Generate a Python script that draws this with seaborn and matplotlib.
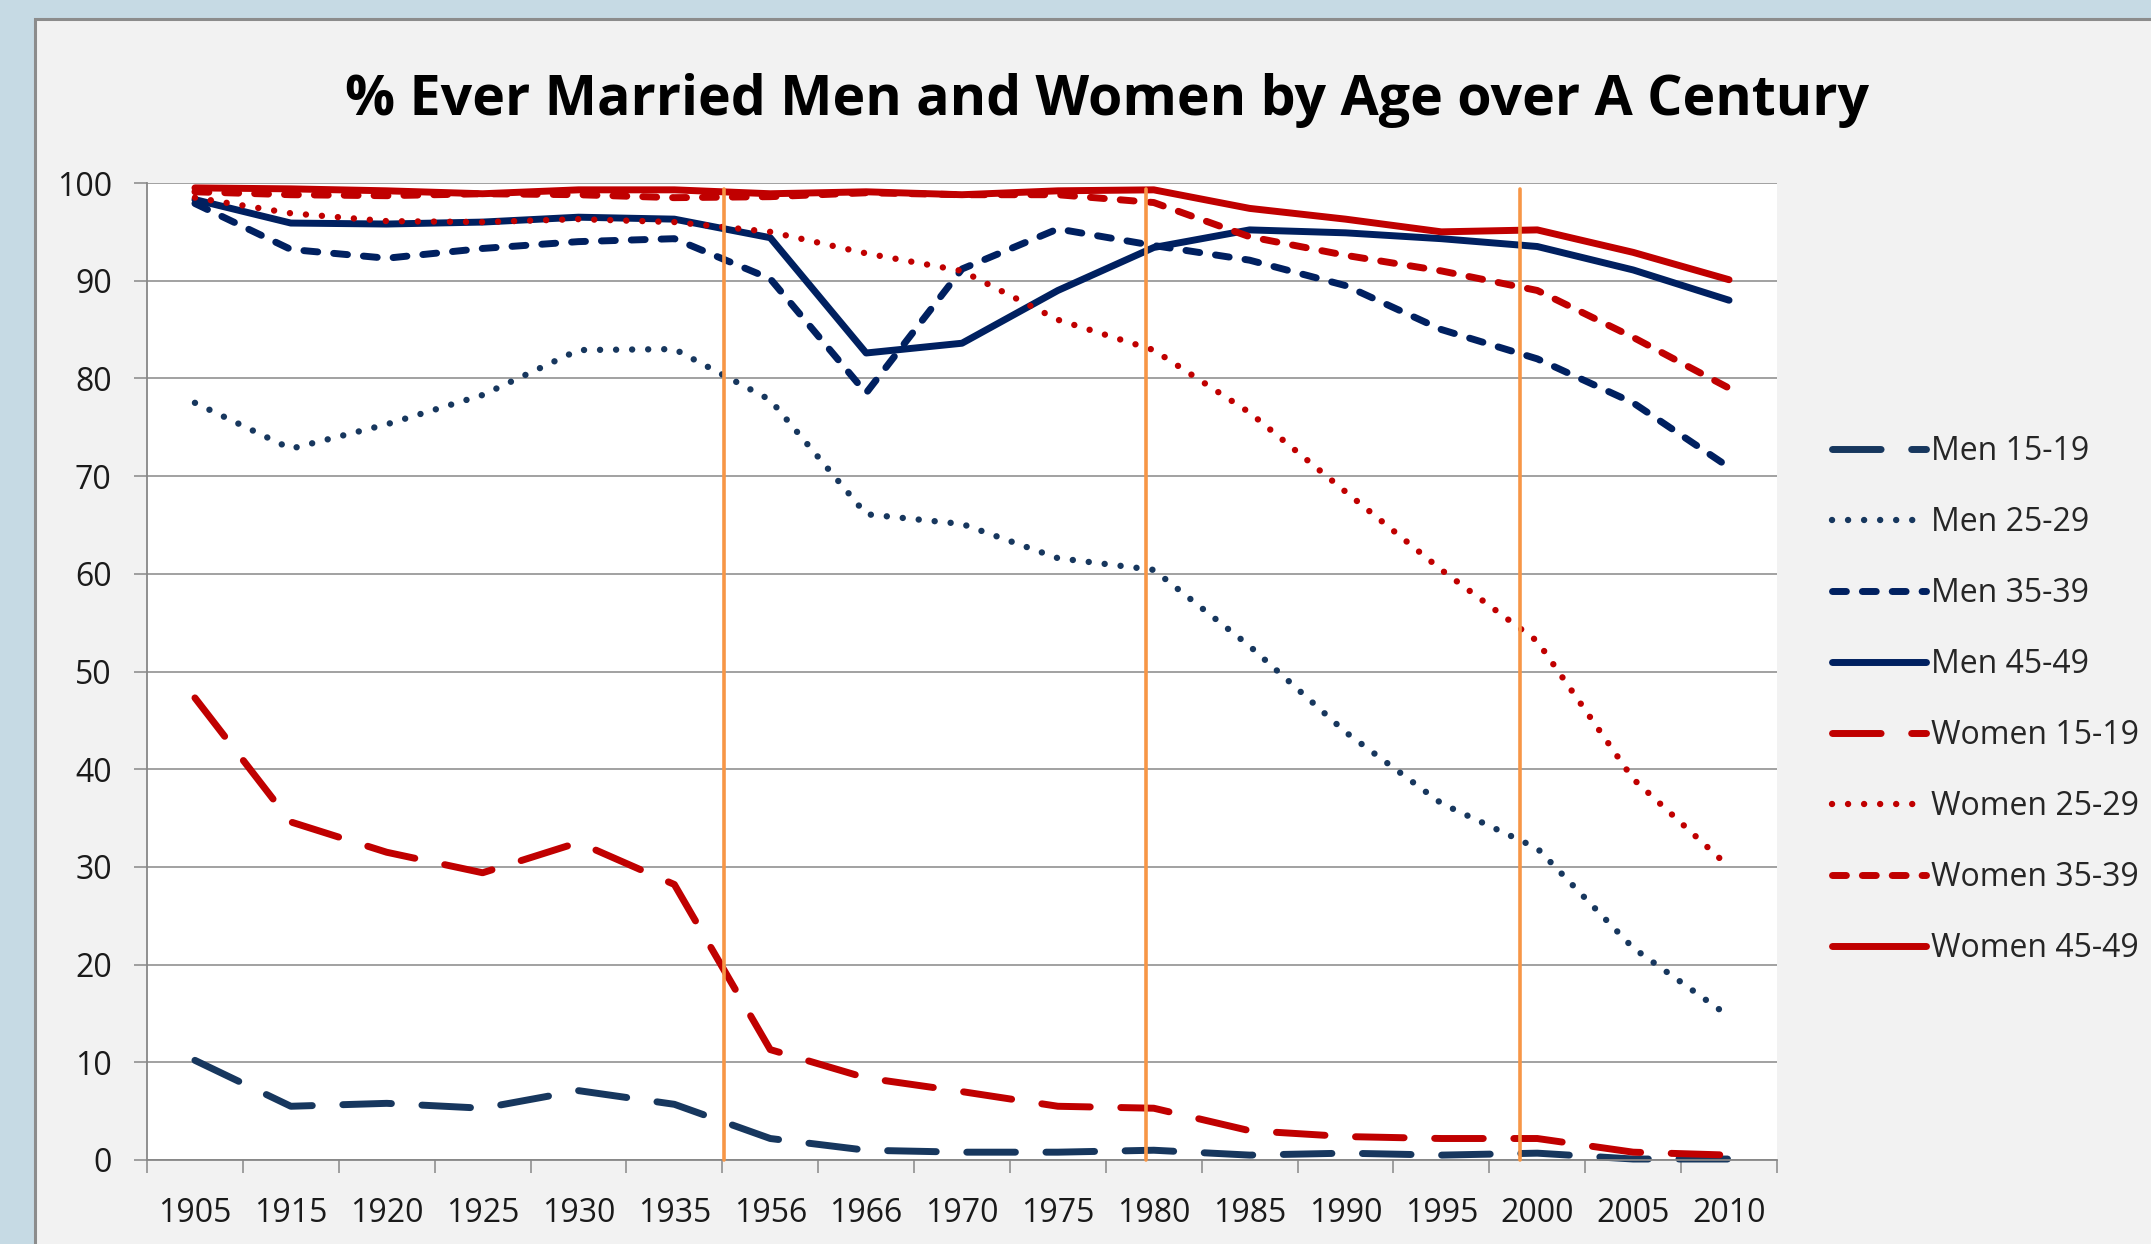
import numpy as np
import pandas as pd
import matplotlib.pyplot as plt
import seaborn as sns
from matplotlib.patches import Rectangle

# data
years = ["1905", "1915", "1920", "1925", "1930", "1935", "1956", "1966", "1970",
         "1975", "1980", "1985", "1990", "1995", "2000", "2005", "2010"]

men_15_19 = [10.2, 5.5, 5.8, 5.3, 7.1, 5.7, 2.2, 1.0, 0.8, 0.8, 1.0, 0.5, 0.7, 0.5, 0.7, 0.1, 0.1]
men_25_29 = [77.5, 72.8, 75.3, 78.3, 82.9, 83.0, 77.8, 66.1, 65.1, 61.6, 60.4, 52.6, 43.8, 36.5, 31.9, 21.7, 14.7]
men_35_39 = [97.9, 93.2, 92.3, 93.3, 94.0, 94.3, 90.2, 78.5, 91.2, 95.3, 93.6, 92.1, 89.5, 85.0, 82.0, 77.5, 70.9]
men_45_49 = [98.3, 95.9, 95.8, 96.0, 96.5, 96.3, 94.4, 82.6, 83.6, 89.0, 93.4, 95.2, 94.9, 94.3, 93.5, 91.1, 88.0]
women_15_19 = [47.3, 34.6, 31.5, 29.4, 32.5, 28.2, 11.3, 8.4, 7.0, 5.5, 5.3, 3.0, 2.4, 2.2, 2.2, 0.8, 0.5]
women_25_29 = [98.5, 96.9, 96.1, 96.0, 96.3, 96.0, 95.0, 92.8, 91.0, 86.0, 82.9, 76.5, 68.4, 60.4, 53.1, 39.0, 30.0]
women_35_39 = [99.1, 98.8, 98.7, 98.9, 98.8, 98.5, 98.6, 99.0, 98.8, 98.8, 98.0, 94.5, 92.6, 91.0, 89.0, 84.2, 79.0]
women_45_49 = [99.5, 99.4, 99.2, 98.9, 99.3, 99.3, 98.9, 99.1, 98.8, 99.2, 99.3, 97.4, 96.3, 95.0, 95.2, 92.9, 90.1]

series_names = ["Men 15-19", "Men 25-29", "Men 35-39", "Men 45-49",
                "Women 15-19", "Women 25-29", "Women 35-39", "Women 45-49"]
series_values = [men_15_19, men_25_29, men_35_39, men_45_49,
                 women_15_19, women_25_29, women_35_39, women_45_49]

# orange marker lines (category position, drawn by hand in the original)
marker_pos = [5.52, 9.92, 13.82]

navy, navy2, red = "#002060", "#17375E", "#C00000"
palette = {"Men 15-19": navy2, "Men 25-29": navy2, "Men 35-39": navy, "Men 45-49": navy,
           "Women 15-19": red, "Women 25-29": red, "Women 35-39": red, "Women 45-49": red}
dashes = {}
widths = {}
for name in series_names:
    age = name.split()[1]
    if age == "15-19":
        dashes[name], widths[name] = (7, 4.4), 5.0
    elif age == "25-29":
        dashes[name], widths[name] = (0.01, 2.5), 4.6
    elif age == "35-39":
        dashes[name], widths[name] = (2.0, 2.3), 5.0
    else:
        dashes[name], widths[name] = "", 5.0

rows = []
for name, vals in zip(series_names, series_values):
    for i, v in enumerate(vals):
        rows.append({"pos": i, "year": years[i], "series": name, "pct": v})
df = pd.DataFrame(rows)

sns.set_theme(style="white")
plt.rcParams["font.family"] = ["Open Sans", "DejaVu Sans"]

W, H = 2151, 1244
fig = plt.figure(figsize=(W / 100, H / 100), dpi=100)
fig.patch.set_facecolor("#C6DAE4")
fig.patches.append(Rectangle((35 / W, -0.05), 1.2, 1 - 19 / H + 0.05, transform=fig.transFigure,
                             facecolor="#F2F2F2", edgecolor="#8C8C8C", linewidth=2.2, zorder=-10))

ax = fig.add_axes([147 / W, 1 - 1160 / H, (1777 - 147) / W, (1160 - 183) / H])
ax.set_zorder(2)
ax.set_facecolor("white")

sns.lineplot(data=df, x="pos", y="pct", hue="series", style="series",
             hue_order=series_names, style_order=series_names,
             palette=palette, dashes=dashes, errorbar=None, legend=False, ax=ax)

for line, name in zip(ax.lines, series_names):
    line.set_linewidth(widths[name])
    line.set_dash_capstyle("round")
    line.set_solid_capstyle("round")
    line.set_solid_joinstyle("round")
    line.set_dash_joinstyle("round")
    line.set_clip_on(False)
    line.set_label(name)

for xp in marker_pos:
    ax.plot([xp, xp], [99.4, 0], color="#F79646", linewidth=2.6, zorder=5, clip_on=False)

ax.set_xlim(-0.5, len(years) - 0.5)
ax.set_ylim(0, 100)
ax.set_yticks(np.arange(0, 101, 10))
ax.set_xticks(np.arange(len(years)))
ax.set_xticklabels(years)
ax.set_xticks(np.arange(-0.5, len(years), 1.0), minor=True)
ax.yaxis.grid(True, color="#878787", linewidth=1.1)
ax.set_axisbelow(True)
for s in ["top", "right"]:
    ax.spines[s].set_visible(False)
for s in ["left", "bottom"]:
    ax.spines[s].set_color("#878787")
    ax.spines[s].set_linewidth(1.3)
ax.tick_params(axis="y", which="major", direction="out", length=9.4, width=1.1,
               color="#878787", labelsize=23, pad=16, labelcolor="#1a1a1a", left=True)
ax.tick_params(axis="x", which="major", length=0, labelsize=23, pad=27, labelcolor="#1a1a1a")
ax.tick_params(axis="x", which="minor", direction="out", length=9.4, width=1.1,
               color="#878787", bottom=True)
ax.set_xlabel("")
ax.set_ylabel("")

fig.text(0.5145, 1 - 115 / H, "% Ever Married Men and Women by Age over A Century",
         ha="center", va="baseline", fontsize=40, fontweight="bold", color="black")

ax.legend(handles=list(ax.lines[:len(series_names)]), labels=series_names,
          loc="center left", bbox_to_anchor=(1832 / W, 1 - 700 / H),
          bbox_transform=fig.transFigure, frameon=False, fontsize=23,
          handlelength=2.95, handletextpad=0.15, labelspacing=1.19,
          borderpad=0, borderaxespad=0)

fig.savefig("out.png", dpi=100, facecolor=fig.get_facecolor())
